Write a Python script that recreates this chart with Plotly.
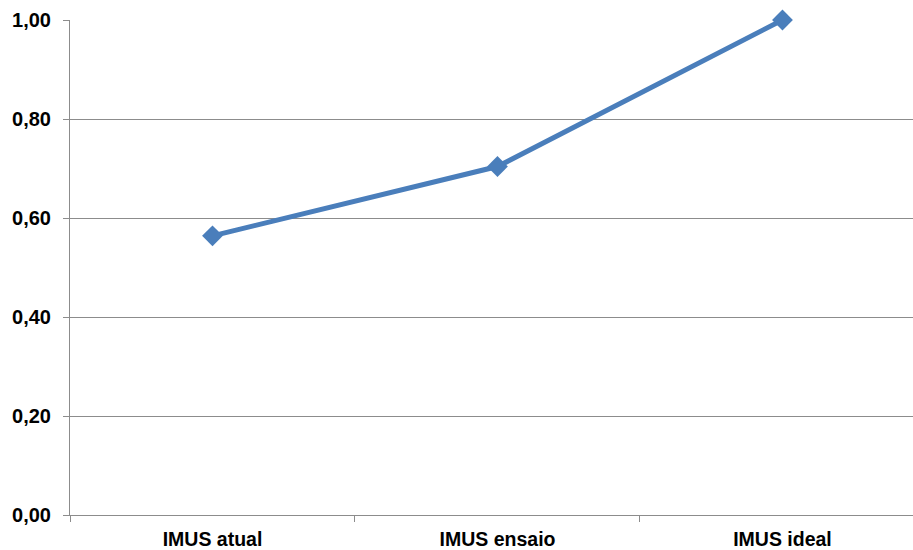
import plotly.graph_objects as go

# IMUS index values per scenario
categories = ["IMUS atual", "IMUS ensaio", "IMUS ideal"]
imus_values = [0.564, 0.704, 1.00]
y_ticks = [0.0, 0.2, 0.4, 0.6, 0.8, 1.0]

line_color = "#4A7EBB"
grid_color = "#8C8C8C"

fig = go.Figure(
    go.Scatter(
        x=categories,
        y=imus_values,
        mode="lines+markers",
        line=dict(color=line_color, width=5),
        marker=dict(symbol="diamond", size=16, color=line_color),
        cliponaxis=False,
        hoverinfo="x+y",
    )
)

fig.update_layout(
    width=913,
    height=550,
    margin=dict(l=70, r=0, t=20, b=35),
    paper_bgcolor="white",
    plot_bgcolor="white",
    separators=",.",
    showlegend=False,
    font=dict(family="Liberation Sans, Arial, sans-serif", size=19,
              color="black", weight="bold"),
)

fig.update_xaxes(
    type="category",
    range=[-0.5, 2.458],
    showgrid=False,
    showline=True,
    linecolor=grid_color,
    linewidth=1,
    ticks="outside",
    tickson="boundaries",
    ticklen=6,
    tickcolor=grid_color,
    tickfont=dict(size=19.5, weight="bold"),
    ticklabelstandoff=7,
)

fig.update_yaxes(
    range=[0, 1.0],
    tickvals=y_ticks,
    tickformat=".2f",
    showgrid=True,
    gridcolor=grid_color,
    gridwidth=1,
    zeroline=False,
    showline=True,
    linecolor=grid_color,
    linewidth=1,
    ticks="outside",
    ticklen=6,
    tickcolor=grid_color,
    tickfont=dict(size=20, weight="bold"),
    ticklabelstandoff=8,
)

fig.write_html("out.html")
